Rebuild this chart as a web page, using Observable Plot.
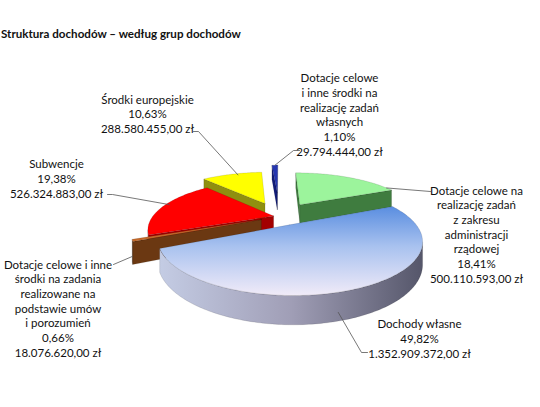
<!DOCTYPE html>
<html><head><meta charset="utf-8">
<script src="https://cdn.jsdelivr.net/npm/d3@7"></script>
<script src="https://cdn.jsdelivr.net/npm/@observablehq/plot@0.6"></script>
<style>
body{margin:0;background:#fff;width:540px;height:407px;overflow:hidden;font-family:Lato,"Open Sans",sans-serif}
#title{position:relative;height:48px;overflow:hidden}
#title span{position:absolute;left:1px;top:27px;font-weight:bold;font-size:11.6px;color:#111;white-space:nowrap}
</style></head><body>
<div id="title"><span>Struktura dochodów – według grup dochodów</span></div>
<div id="chart"></div>
<script>
// ---- data (clockwise from 12 o'clock) ----
const categories = [
  "Dotacje celowe na\nrealizację zadań\nz zakresu\nadministracji\nrządowej",
  "Dochody własne",
  "Dotacje celowe i inne\nśrodki na zadania\nrealizowane na\npodstawie umów\ni porozumień",
  "Subwencje",
  "Środki europejskie",
  "Dotacje celowe\ni inne środki na\nrealizację zadań\nwłasnych"
];
const percents = [18.41, 49.82, 0.66, 19.38, 10.63, 1.10];
const amounts = [500110593, 1352909372, 18076620, 526324883, 288580455, 29794444];

// ---- styles / layout ----
const topColors   = ["#9cf49c", "url(#blueTop)", "#c66a2a", "#ff0000", "#ffff00", "#2536b0"];
const sideColors  = ["#3f7c3f", "#9aa2c0", "#6b3812", "#a30000", "#8f8f10", "#121c78"];
const outerColors = ["#4a8a4a", "url(#blueSide)", "#5a2e0e", "#b00000", "#a0a000", "#1a2590"];
const explode = [0.33, 0.19, 0.16, 0.05, 0.33, 0.6];
const labelX = [476, 419, 57.5, 56, 147, 339];
const labelY = [188.3, 321.7, 262.3, 161.7, 97.3, 75.7];
// leader: label-side points + target on slice [theta, r, h]
const leaderStart = [[[430,191]], [[367,352],[361,352]], [[113,264]], [[107,194],[112,194]], [[193,131],[198,131]], [[299,150],[293,150]]];
const leaderTarget = [[62,1,0], [165,1,0.7], [246.8,1,0.7], [286,0.97,0], [340,0.95,0], [358.2,1,0]];

const pl = d3.formatLocale({decimal: ",", thousands: ".", grouping: [3], currency: ["", " zł"]});
const fmtPct = v => pl.format(".2f")(v) + "%";
const fmtAmt = v => pl.format("$,.2f")(v);

// ---- 3D perspective pie geometry ----
const cx = 279, cy = 216, RX = 121, RY = 46, K = 0.27, H = 20;
const rad = a => a * Math.PI / 180;
function proj(u, z, h) { const p = 1 / (1 - K * z); return [cx + RX * u * p, cy + (RY * z + H * h) * p]; }
let acc = 0;
const total = d3.sum(percents);
const slices = percents.map((v, i) => { const a0 = acc / total * 360; acc += v; const a1 = acc / total * 360; return {i, a0, a1, mid: (a0 + a1) / 2}; });
function pt(s, theta, r, h) {
  const t = rad(theta), m = rad(s.mid), e = explode[s.i];
  return proj(r * Math.sin(t) + e * Math.sin(m), -r * Math.cos(t) - e * Math.cos(m), h);
}
slices.forEach(s => { s.depth = -(0.6 + explode[s.i]) * Math.cos(rad(s.mid)); });
function area(p) { let a = 0; for (let k = 0; k < p.length; k++) { const [x1, y1] = p[k], [x2, y2] = p[(k + 1) % p.length]; a += x1 * y2 - x2 * y1; } return a / 2; }

const polys = [];
for (const s of [...slices].sort((a, b) => a.depth - b.depth)) {
  const A = pt(s, s.a0, 0, 0), Ab = pt(s, s.a0, 0, 1);
  const O0 = pt(s, s.a0, 1, 0), O0b = pt(s, s.a0, 1, 1);
  const O1 = pt(s, s.a1, 1, 0), O1b = pt(s, s.a1, 1, 1);
  const w1 = [A, O0, O0b, Ab]; if (area(w1) < 0) polys.push({pts: w1, fill: sideColors[s.i]});
  const w2 = [O1, A, Ab, O1b]; if (area(w2) < 0) polys.push({pts: w2, fill: sideColors[s.i]});
  const N = Math.max(2, Math.ceil(s.a1 - s.a0));
  const th = d3.range(N + 1).map(k => s.a0 + (s.a1 - s.a0) * k / N);
  let run = [];
  const flush = () => { if (run.length) { const tops = run.map(t => pt(s, t, 1, 0)), bots = run.map(t => pt(s, t, 1, 1)).reverse(); polys.push({pts: tops.concat(bots), fill: outerColors[s.i]}); } run = []; };
  for (let k = 0; k < N; k++) {
    const q = [pt(s, th[k], 1, 0), pt(s, th[k + 1], 1, 0), pt(s, th[k + 1], 1, 1), pt(s, th[k], 1, 1)];
    if (area(q) < 0) { if (!run.length) run.push(th[k]); run.push(th[k + 1]); } else flush();
  }
  flush();
  polys.push({pts: [A, ...th.map(t => pt(s, t, 1, 0))], fill: topColors[s.i]});
}
const rows = polys.flatMap((p, id) => [...p.pts, p.pts[0]].map(([x, y]) => ({id, x, y, fill: p.fill})));

const leaders = slices.flatMap(s => {
  const [t, r, h] = leaderTarget[s.i];
  return [...leaderStart[s.i], pt(s, t, r, h)].map(([x, y]) => ({id: s.i, x, y}));
});
const labels = categories.map((c, i) => ({x: labelX[i], y: labelY[i] - 4.4, text: c + "\n" + fmtPct(percents[i]) + "\n" + fmtAmt(amounts[i])}));

const chart = Plot.plot({
  width: 540, height: 359, margin: 0,
  style: "font-family: Lato, 'Open Sans', sans-serif; font-size: 11.5px; background: white; color: #111",
  x: {domain: [0, 540], range: [0, 540], axis: null},
  y: {domain: [48, 407], range: [0, 359], axis: null},
  color: {type: "identity"},
  marks: [
    Plot.line(rows, {x: "x", y: "y", z: "id", fill: "fill", stroke: "rgba(0,0,0,0.22)", strokeWidth: 0.5, curve: "linear"}),
    Plot.line(leaders, {x: "x", y: "y", z: "id", stroke: "#555", strokeWidth: 0.8}),
    Plot.text(labels, {x: "x", y: "y", text: "text", fontSize: 11.5, lineHeight: 1.275, lineAnchor: "top", textAnchor: "middle", fill: "#111"})
  ]
});
const defs = document.createElementNS("http://www.w3.org/2000/svg", "defs");
defs.innerHTML = `<linearGradient id="blueTop" x1="0" y1="0" x2="0" y2="1">
  <stop offset="0" stop-color="#5a8ee0"/><stop offset="0.45" stop-color="#a9c2ef"/><stop offset="1" stop-color="#f1ebf8"/></linearGradient>
  <linearGradient id="blueSide" x1="0" y1="0" x2="1" y2="0">
  <stop offset="0" stop-color="#c4cce4"/><stop offset="0.5" stop-color="#a09eb6"/><stop offset="1" stop-color="#55566a"/></linearGradient>`;
chart.prepend(defs);
document.getElementById("chart").append(chart);
</script>
</body></html>
